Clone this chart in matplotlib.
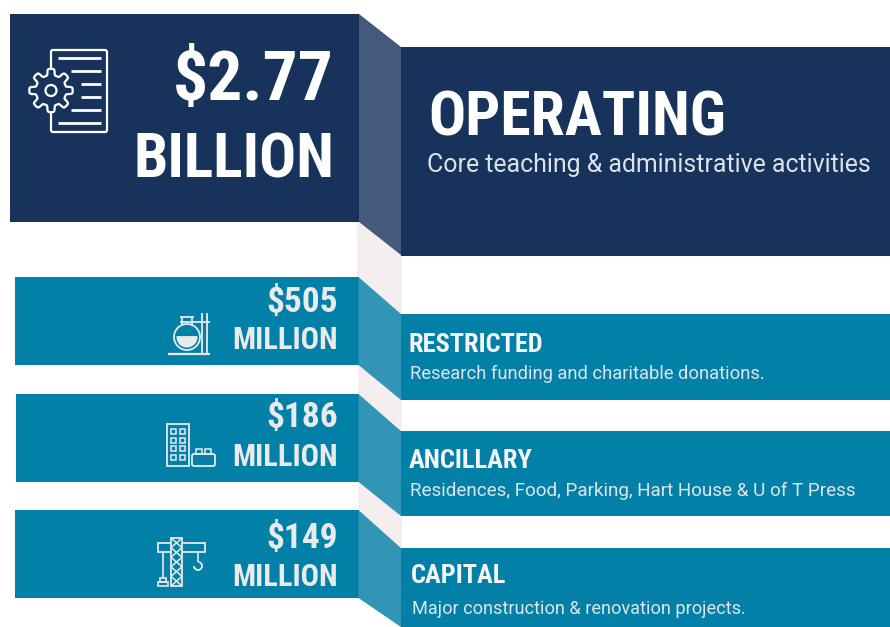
import matplotlib
matplotlib.use('Agg')
from matplotlib import pyplot as plt
from matplotlib.patches import Polygon, Rectangle, Circle, FancyBboxPatch, Arc
import numpy as np

NAVY = '#17335c'
NAVY_FOLD = '#445a7a'
TEAL = '#0280a8'
TEAL_FOLD = '#3395b6'
PINK = '#f4eeef'
LIGHT = '#e8eaec'

NARROW = ['Roboto Condensed', 'Liberation Sans Narrow', 'Roboto', 'DejaVu Sans']
BODY = ['Roboto', 'DejaVu Sans']

amounts = ['$505', '$186', '$149']
unit = 'MILLION'
headings = ['RESTRICTED', 'ANCILLARY', 'CAPITAL']
descriptions = ['Research funding and charitable donations.',
                'Residences, Food, Parking, Hart House & U of T Press',
                'Major construction & renovation projects.']

# left box (x0, y0, y1), right box (y0, y1)
left_boxes = [(15, 277, 365), (16, 394, 482), (15, 510, 598)]
right_boxes = [(314, 400), (431, 516), (548, 627)]
amount_y = [312, 427, 548]
unit_y = [349, 466, 586]
heading_pos = [(409, 352), (409, 468), (411, 583)]
desc_pos = [(410, 379), (410, 496), (412, 614)]
desc_size = [13.27, 13.6, 13.05]

fig = plt.figure(figsize=(8.9, 6.27), dpi=100)
ax = fig.add_axes([0, 0, 1, 1])
ax.set_xlim(0, 890)
ax.set_ylim(627, 0)
ax.axis('off')


def box(x0, y0, x1, y1, color):
    ax.add_patch(Rectangle((x0, y0), x1 - x0, y1 - y0, fc=color, ec='none', zorder=2))


def poly(pts, color, z=1):
    ax.add_patch(Polygon(pts, closed=True, fc=color, ec='none', zorder=z))


def line(xs, ys, lw=1.5, color='white'):
    ax.plot(xs, ys, color=color, lw=lw, solid_capstyle='butt', zorder=4)


def rect_o(x, y, w, h, lw=1.3, color=LIGHT):
    ax.add_patch(Rectangle((x, y), w, h, fc='none', ec=color, lw=lw, zorder=4))


def txt(x, y, s, size, ha='left', color='white', weight='bold', family=NARROW):
    ax.text(x, y, s, fontsize=size, ha=ha, va='baseline', color=color,
            fontweight=weight, family=family, zorder=5)


# pink folds behind everything
poly([(357, 222), (402, 255), (402, 314), (357, 277)], PINK)
poly([(358, 365), (402, 399), (402, 431), (358, 394)], PINK)
poly([(358, 482), (402, 516), (402, 548), (358, 510)], PINK)

# top block
box(10, 14, 359, 222, NAVY)
box(401, 47, 890, 256, NAVY)
poly([(359, 14), (401, 47), (401, 255), (359, 222)], NAVY_FOLD, 2)

# teal rows
for (x0, y0, y1), (ry0, ry1) in zip(left_boxes, right_boxes):
    box(x0, y0, 358.5, y1, TEAL)
    box(401, ry0, 890, ry1, TEAL)
    poly([(358.5, y0), (401, ry0), (401, ry1), (358.5, y1)], TEAL_FOLD, 2)

# top text
txt(334, 100, '$2.77', 50, ha='right')
txt(334, 177, 'BILLION', 44.2, ha='right')
txt(428, 136, 'OPERATING', 44.5)
txt(427, 172, 'Core teaching & administrative activities', 17.9,
    color='#dde2e9', weight='normal', family=BODY)

# row text
for i in range(3):
    txt(338, amount_y[i], amounts[i], 25.5, ha='right', color=LIGHT)
    txt(338, unit_y[i], unit, 22, ha='right', color=LIGHT)
    txt(heading_pos[i][0], heading_pos[i][1], headings[i], 19, color='#f4f5f6')
    txt(desc_pos[i][0], desc_pos[i][1], descriptions[i], desc_size[i], color='#dce6ec',
        weight='normal', family=BODY)

# document + gear icon
ax.add_patch(FancyBboxPatch((51, 50), 56, 82, boxstyle='round,pad=0,rounding_size=2',
                            fc=NAVY, ec='white', lw=1.6, zorder=3))
for x0, y0 in [(58, 58), (71, 71), (81, 84), (81, 97), (71, 110), (58, 123)]:
    line([x0, 101], [y0, y0], lw=2)
ang = np.linspace(0, 2 * np.pi, 241)
rad = 18.5 + 3.2 * np.tanh(3 * np.cos(8 * ang))
ax.fill(51 + rad * np.cos(ang), 90.5 + rad * np.sin(ang), fc=NAVY, ec='white', lw=1.6, zorder=4)
ax.add_patch(Circle((51, 90.5), 5.5, fc=NAVY, ec='white', lw=1.6, zorder=5))

# flask icon
fl = LIGHT
ax.add_patch(Circle((187, 337), 13, fc=TEAL, ec=fl, lw=1.3, zorder=3))
liq = np.linspace(np.radians(-5), np.radians(185), 40)
ax.fill(187 + 10.5 * np.cos(liq), 337 + 10.5 * np.sin(liq), fc=fl, ec='none', zorder=4)
line([182, 182], [317, 326], 1.3, fl)
line([192, 192], [317, 326], 1.3, fl)
line([180, 194], [317, 317], 1.3, fl)
line([180, 210], [322, 322], 1.3, fl)
line([202, 202], [313, 354], 1.3, fl)
line([207, 207], [313, 354], 1.3, fl)
line([168, 210], [354, 354], 1.6, fl)

# building icon
rect_o(167, 424, 22, 42)
for row in range(4):
    for col in range(2):
        rect_o(171 + col * 8.5, 429 + row * 8.5, 5, 5, 1.1)
ax.add_patch(FancyBboxPatch((192, 454), 23, 12, boxstyle='round,pad=0,rounding_size=2',
                            fc='none', ec=LIGHT, lw=1.3, zorder=4))
rect_o(196, 449, 6, 5, 1.1)
rect_o(205, 449, 6, 5, 1.1)

# crane icon
rect_o(158, 543, 47, 9)
ax.add_patch(Rectangle((171, 538), 11, 48, fc=TEAL, ec=LIGHT, lw=1.3, zorder=4))
for y0 in np.arange(538, 586, 9.6):
    line([171, 182], [y0, y0 + 9.6], 1.1, LIGHT)
    line([182, 171], [y0, y0 + 9.6], 1.1, LIGHT)
line([163, 163], [552, 578], 1.2, LIGHT)
rect_o(160, 578, 6, 4, 1.2)
rect_o(158, 582, 10, 4, 1.2)
line([198, 198], [552, 562], 1.2, LIGHT)
ax.add_patch(Arc((198, 566), 8, 8, theta1=-80, theta2=180, ec=LIGHT, lw=1.3, zorder=4))

fig.savefig('out.png', dpi=100, facecolor='white')
plt.close()
